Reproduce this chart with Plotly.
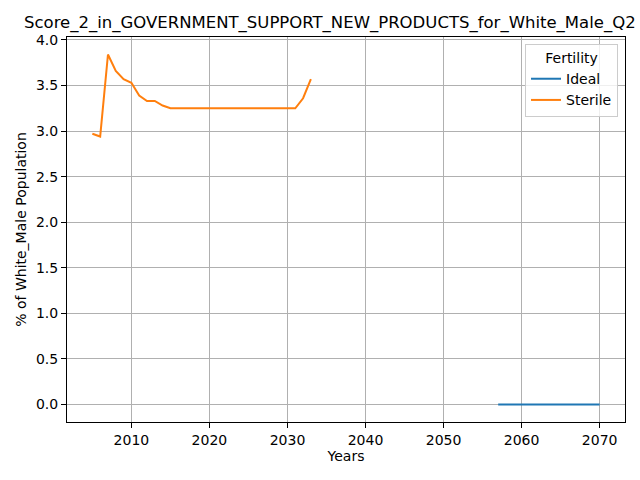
import plotly.graph_objects as go

# Fertility series
ideal_years = [2057, 2058, 2059, 2060, 2061, 2062, 2063, 2064, 2065, 2066, 2067, 2068, 2069, 2070]
ideal_values = [0.0, 0.0, 0.0, 0.0, 0.0, 0.0, 0.0, 0.0, 0.0, 0.0, 0.0, 0.0, 0.0, 0.0]

sterile_years = [2005, 2006, 2007, 2008, 2009, 2010, 2011, 2012, 2013, 2014, 2015, 2016, 2017,
                 2018, 2019, 2020, 2021, 2022, 2023, 2024, 2025, 2026, 2027, 2028, 2029, 2030,
                 2031, 2032, 2033]
sterile_values = [2.97, 2.94, 3.84, 3.66, 3.57, 3.53, 3.39, 3.33, 3.33, 3.28, 3.25, 3.25, 3.25,
                  3.25, 3.25, 3.25, 3.25, 3.25, 3.25, 3.25, 3.25, 3.25, 3.25, 3.25, 3.25, 3.25,
                  3.25, 3.36, 3.57]

title_text = "Score_2_in_GOVERNMENT_SUPPORT_NEW_PRODUCTS_for_White_Male_Q2"
font_family = "DejaVu Sans"

fig = go.Figure()
fig.add_trace(go.Scatter(x=ideal_years, y=ideal_values, name="Ideal", mode="lines",
                         line={'color': '#1f77b4', 'width': 2}))
fig.add_trace(go.Scatter(x=sterile_years, y=sterile_values, name="Sterile", mode="lines",
                         line={'color': '#ff7f0e', 'width': 2}))

axis_style = dict(
    showline=True, linecolor="black", linewidth=1, mirror=True,
    ticks="outside", ticklen=5, tickcolor="black", tickwidth=1,
    showgrid=True, gridcolor="#b0b0b0", gridwidth=1,
    zeroline=False, tickfont=dict(size=14, color="black"), automargin=False,
)

fig.update_layout(
    width=640, height=480,
    paper_bgcolor="white", plot_bgcolor="white",
    font=dict(family=font_family, color="black"),
    margin=dict(l=67, r=15, t=37, b=58, autoexpand=False),
    title=dict(text=title_text, x=24 / 640, xanchor="left", xref="container",
               y=1 - 22 / 480, yanchor="middle", yref="container",
               pad=dict(l=0, r=0, t=0, b=0),
               font=dict(size=16.5, color="black")),
    xaxis=dict(axis_style, range=[2001.75, 2073.25], dtick=10,
               title=dict(text="Years", font=dict(size=14), standoff=4)),
    yaxis=dict(axis_style, range=[-0.192, 4.032], dtick=0.5, tickformat=".1f",
               title=dict(text="% of White_Male Population", font=dict(size=14), standoff=6)),
    legend=dict(
        title=dict(text="Fertility", side="top center", font=dict(size=14)),
        x=0.9875, xanchor="right", y=0.982, yanchor="top",
        bordercolor="#cccccc", borderwidth=1, bgcolor="rgba(255,255,255,0.8)",
        font=dict(size=14), tracegroupgap=2,
    ),
    showlegend=True,
)

# drop the default page margin so the figure sits at the window's corner
fig.write_html("out.html", config={'displayModeBar': False},
               post_script="document.body.style.margin='0';")
